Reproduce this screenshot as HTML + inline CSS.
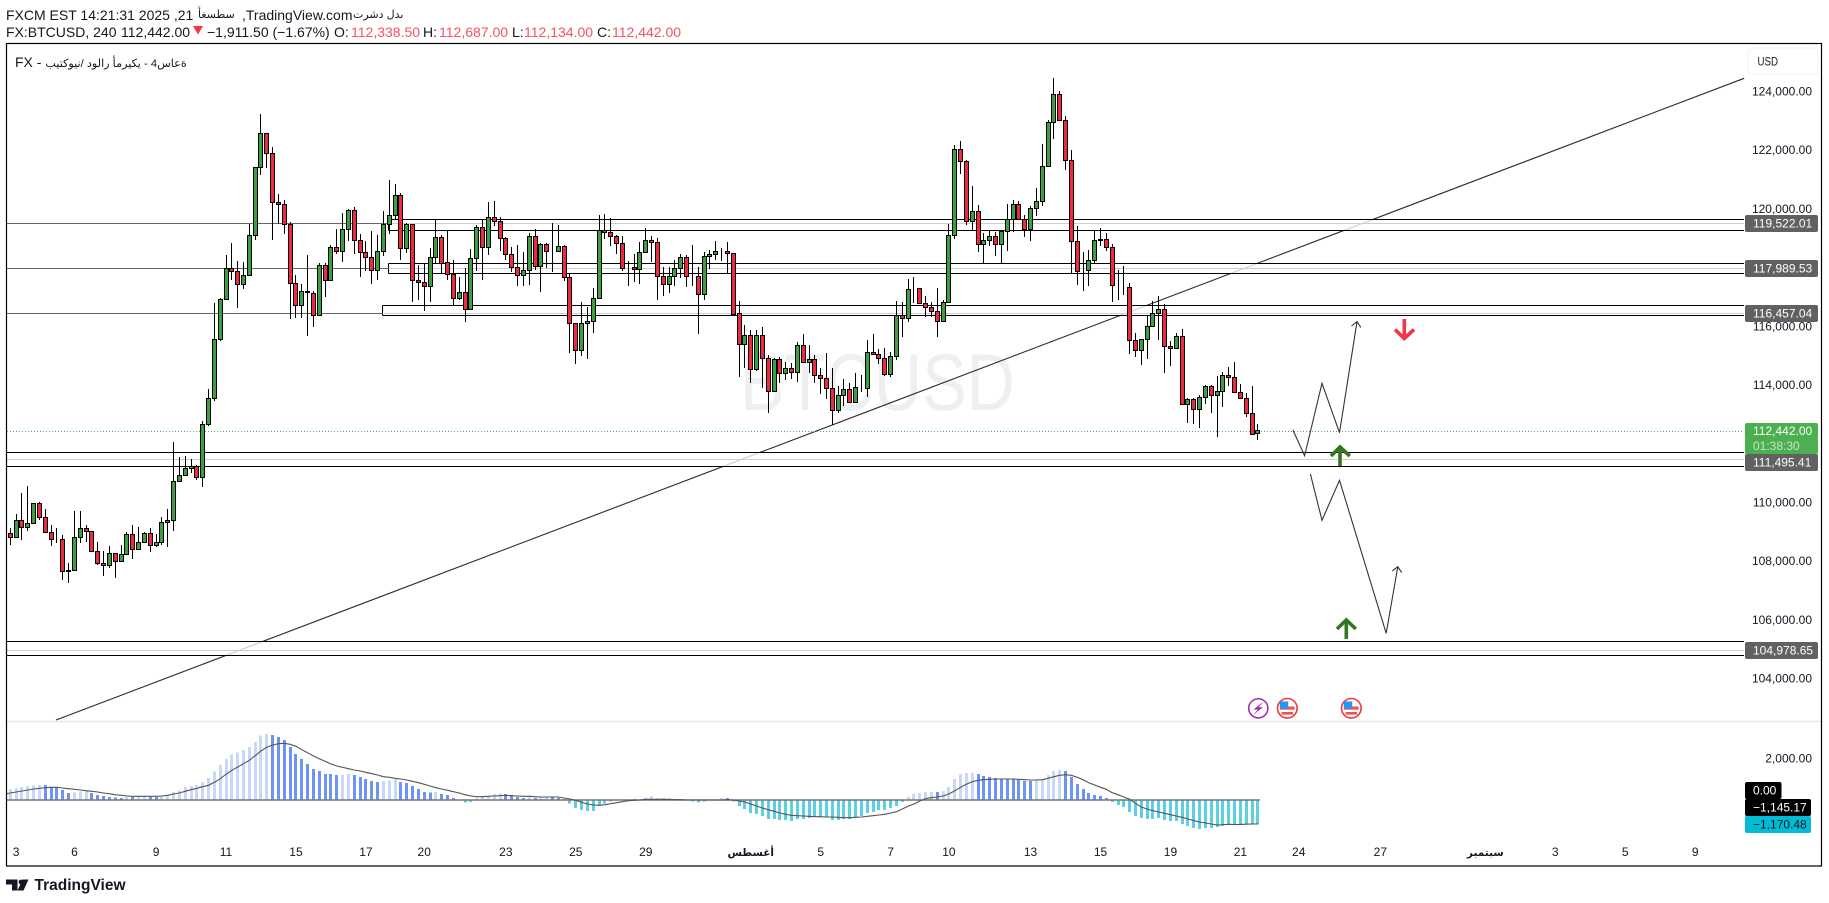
<!DOCTYPE html>
<html lang="en">
<head>
<meta charset="utf-8">
<title>BTCUSD 4H chart</title>
<style>
html,body{margin:0;padding:0;background:#fff;width:1829px;height:903px;overflow:hidden}
body{font-family:"Liberation Sans",DejaVu Sans,sans-serif;color:#131722;position:relative}
.t{position:absolute;white-space:pre;font-size:14px;line-height:18px;unicode-bidi:bidi-override;direction:ltr}
.a{font-size:11px}
.r{color:#f7525f}
svg{position:absolute;left:0;top:0}
svg text{font-family:"Liberation Sans",DejaVu Sans,sans-serif}
</style>
</head>
<body>
<svg id="chart" width="1829" height="903" viewBox="0 0 1829 903">
  <defs><clipPath id="pane-clip"><rect x="7" y="722" width="1814" height="144"/></clipPath></defs>
  <text x="740" y="410" font-size="81" fill="#eeeff2" textLength="275" lengthAdjust="spacingAndGlyphs">BTCUSD</text>
  <g id="trend-layer"></g>
  <g id="zone-layer"></g>
  <g id="price-line-layer"></g>
  <g id="candle-layer" shape-rendering="crispEdges"></g>
  <g id="projection-layer"></g>

  <g fill="none" stroke="#f23645" stroke-width="3.6">
    <line x1="1404.3" y1="319" x2="1404.3" y2="338"/>
    <polyline points="1395,329.5 1404.3,338.5 1414,329.5"/>
  </g>
  <g fill="none" stroke="#33761f" stroke-width="3.6">
    <line x1="1340" y1="447" x2="1340" y2="466"/>
    <polyline points="1331,456 1340,447 1349.8,456"/>
  </g>
  <g fill="none" stroke="#33761f" stroke-width="3.6">
    <line x1="1346.3" y1="620" x2="1346.3" y2="639"/>
    <polyline points="1337,629 1346.3,620 1355.8,629"/>
  </g>

  <g>
    <circle cx="1258.3" cy="708.3" r="9.6" fill="#fff" stroke="#9c27b0" stroke-width="1.5"/>
    <path d="M1263.5 701.5 L1253.5 709.6 L1258 709.6 L1253 715 L1263 707.2 L1258.6 707.2 Z" fill="#9c27b0"/>
  </g>
  <g>
    <circle cx="1287.3" cy="708.3" r="9.8" fill="#fff" stroke="#f23645" stroke-width="1.6"/>
    <rect x="1280" y="706.5" width="14.6" height="3.2" fill="#ef5350"/>
    <rect x="1281.5" y="712" width="11.6" height="2.6" fill="#ef5350"/>
    <rect x="1279.8" y="701.5" width="8.4" height="7" fill="#2196f3"/>
  </g>
  <g>
    <circle cx="1351.3" cy="708.3" r="9.8" fill="#fff" stroke="#f23645" stroke-width="1.6"/>
    <rect x="1344" y="706.5" width="14.6" height="3.2" fill="#ef5350"/>
    <rect x="1345.5" y="712" width="11.6" height="2.6" fill="#ef5350"/>
    <rect x="1343.8" y="701.5" width="8.4" height="7" fill="#2196f3"/>
  </g>

  <line x1="7" y1="721.5" x2="1821" y2="721.5" stroke="#e8e8ea" stroke-width="1.5"/>
  <g id="osc-layer" clip-path="url(#pane-clip)"></g>
  <g id="axis-layer"></g>
  <g id="time-layer"></g>

  <g>
    <rect x="1748" y="48" width="70" height="26" rx="4" fill="#fff" stroke="#f0f0f3"/>
    <text x="1757.5" y="65.5" font-size="12" fill="#131722" textLength="20.5" lengthAdjust="spacingAndGlyphs">USD</text>
  </g>

  <rect x="6.5" y="43.5" width="1815" height="822.5" fill="none" stroke="#000" stroke-width="1.2"/>

  <g>
    <path d="M6 879.5 H17.5 V890.5 H12 V884.5 H6 Z" fill="#131722"/>
    <circle cx="21" cy="882" r="2.4" fill="#131722"/>
    <path d="M22.5 879.5 H28.5 L23.5 890.5 H17.5 Z" fill="#131722"/>
    <text x="34.5" y="890" font-size="16" font-weight="bold" fill="#131722" textLength="91" lengthAdjust="spacingAndGlyphs">TradingView</text>
  </g>
</svg>

<div class="t" style="left:6px;top:6px">FXCM EST 14:21:31 2025 ,21</div>
<div class="t a" style="left:198px;top:6px">أغسطس</div>
<div class="t" style="left:242px;top:6px">,TradingView.com</div>
<div class="t a" style="left:353px;top:6px">ترشد لدى</div>
<div class="t" style="left:6px;top:23px">FX:BTCUSD, 240</div>
<div class="t" style="left:121px;top:23px">112,442.00</div>
<svg style="left:193px;top:26px" width="11" height="9"><path d="M0 0H10L5 8.5Z" fill="#f23645"/></svg>
<div class="t" style="left:207px;top:23px">−1,911.50 (−1.67%)</div>
<div class="t" style="left:334px;top:23px">O:</div>
<div class="t r" style="left:351px;top:23px">112,338.50</div>
<div class="t" style="left:423px;top:23px">H:</div>
<div class="t r" style="left:439px;top:23px">112,687.00</div>
<div class="t" style="left:512px;top:23px">L:</div>
<div class="t r" style="left:524px;top:23px">112,134.00</div>
<div class="t" style="left:597px;top:23px">C:</div>
<div class="t r" style="left:612px;top:23px">112,442.00</div>
<div class="t" style="left:15px;top:53px">FX - <span style="font-size:11.2px">بيتكوين/ دولار أمريكي - 4ساعة</span></div>

<script>
var opens = [
108946,108798,109389,109139,109275,109968,109491,108980,108741,108741,107685,107674,108809,109116,109014,108332,107924,107844,108264,107980,
108219,108912,108389,108639,108946,108525,108628,109309,109377,110706,110922,111149,111228,110842,112648,113534,115544,116920,117976,117874,
117431,117738,119100,121417,122575,121894,120225,120157,119475,117451,116715,117170,117124,116361,118078,117567,118692,118542,119305,119952,
118930,118521,118351,117908,118555,119461,119782,120463,118657,119475,117567,117499,117363,118351,119032,118180,117772,116940,117158,116566,
118303,119373,118678,119714,119577,118998,118453,118010,117724,117894,119066,118031,118794,118560,118542,118726,117669,116102,115169,116088,
116157,116954,119271,119203,119066,118828,118015,118010,117928,118507,118930,118862,117704,117417,117690,117962,118351,117710,117704,117077,
118371,118439,118560,118555,118487,116443,115373,115693,114521,115693,114910,113772,114876,114399,114555,114433,115353,114774,114876,114331,
114228,113888,113125,113649,113854,113411,113908,113888,115114,115046,114910,114365,114978,116375,116273,117300,117295,116784,116647,116511,
116170,116818,119087,122030,121622,119577,119918,118794,118930,119066,118794,119237,119645,120157,119645,119305,120020,120259,121451,122950,
123904,123018,121656,118896,117915,117908,118249,118930,118964,118692,117390,117355,117329,115523,115182,115557,116000,116443,116579,115318,
115251,115659,113342,113513,113172,113581,113942,113649,113785,114331,114263,113751,113547,113036,112338.5];
var highs = [
109116,109604,110309,110558,109968,110013,109775,109230,109127,108878,107924,109707,109707,109230,109014,108650,108344,108514,108264,108548,
108980,109230,109161,108991,109127,108923,109491,109775,112057,111546,111581,111478,111274,112762,113863,116793,116952,118419,118828,118214,
118180,119485,121438,123223,122575,122109,120497,120293,119543,117738,117431,118419,117192,118167,118146,118760,119315,119850,119986,120065,
119145,118906,119247,119111,119928,120984,120848,120541,119519,119475,118078,118157,118668,119656,119111,119281,118259,117680,117976,118623,
119451,119656,120235,120269,119724,119042,118692,118770,118521,119169,119305,118828,118828,119509,119441,118770,117782,116102,116818,116658,
117295,119782,119816,119680,119100,119066,118214,118463,118862,119339,119066,118998,118010,118010,118259,118463,118419,118770,118010,118521,
118599,118906,118657,118862,118497,116852,116034,115874,115864,115966,115012,114910,114964,114784,114760,115455,115727,115353,115022,114569,
115080,114569,113966,114194,114068,114399,114341,115523,115727,115216,115250,115114,116862,116818,117601,117669,117295,117032,116818,117295,
116896,119485,122177,122313,121666,120780,120133,119169,119281,119203,119281,120167,120303,120269,119792,120099,120712,122211,123029,124460,
124006,123155,122006,119417,118531,118599,119257,119339,119169,118794,117918,118054,117465,115761,115557,116375,116852,117032,116749,115489,
115761,115898,113557,113557,113649,113990,113990,114296,114433,114603,114774,114024,113728,113956,112687];
var lows = [
108548,108798,108719,109037,109275,109400,108968,108514,108616,107356,107265,107674,108605,108650,108321,107878,107492,107776,107424,107980,
108219,108071,108389,108639,108310,108480,108560,108491,109025,110706,110922,110990,110774,110536,112603,113466,115510,116896,117577,116634,
117281,117738,118940,121155,121383,118940,119485,119145,116249,116283,116283,115680,115986,116361,117008,117567,118463,118201,118916,118463,
117680,117884,117451,117577,118395,119145,119611,118259,118487,116828,116896,116521,116828,118146,117816,117577,116726,116896,116157,116566,
117884,117577,118429,119417,118565,118259,117850,117373,117373,117407,117918,117169,117996,117860,118542,117553,115101,114726,114998,114886,
115782,116954,118985,118736,118474,117894,117373,117509,117441,118507,118191,116896,117032,117134,117373,117646,117339,117373,115738,116896,
117952,118259,118225,117782,116385,114273,114579,114058,114487,113898,113046,113772,114078,114170,114215,114113,114774,114409,114078,113704,
113513,112627,113056,113295,113377,113411,113772,113581,115046,114716,114307,114283,114852,115646,116157,116784,116749,116327,116327,115646,
116170,116818,118974,121189,119461,119281,118531,118112,118746,118405,118146,118576,119203,119611,119053,118916,119758,120099,121451,122381,
123018,121335,117806,117407,117203,117373,118146,118736,118555,116828,116896,117066,115056,114964,114681,114886,116000,115533,114409,114647,
115251,113342,112716,112682,112535,113363,113036,112218,113251,113976,113751,113547,112920,112320,112134];
var closes = [
108798,109389,109139,109286,109968,109479,108968,108730,108730,107640,107640,108809,109116,109002,108321,107912,107844,108264,107980,108230,
108912,108389,108639,108946,108525,108639,109320,109389,110717,110922,111160,111217,110842,112659,113545,115555,116918,117976,117860,117431,
117738,119100,121417,122575,121894,120225,120157,119475,117451,116715,117169,117150,116361,118078,117567,118692,118542,119305,119952,118916,
118507,118337,117908,118555,119475,119782,120463,118657,119475,117553,117499,117349,118351,119032,118146,117772,116954,117158,116566,118317,
119373,118678,119714,119564,118985,118439,117996,117724,117908,119066,118031,118794,118542,118550,118726,117656,116088,115169,116102,116170,
116954,119271,119189,119053,118828,117962,118005,117928,118521,118930,118848,117690,117417,117704,117976,118351,117690,117700,117077,118385,
118453,118555,118550,118474,116419,115373,115693,114521,115693,114896,113772,114876,114399,114555,114433,115353,114774,114876,114331,114228,
113888,113125,113649,113854,113411,113922,113898,115114,115046,114910,114365,114978,116375,116273,117261,117290,116784,116647,116511,116170,
116818,119100,122030,121608,119577,119918,118794,118930,119066,118794,119237,119645,120157,119645,119305,120020,120259,121451,122950,123904,
123018,121656,118882,117874,117905,118249,118930,118964,118692,117383,117380,117345,115523,115182,115557,116000,116443,116579,115318,115251,
115659,113342,113513,113172,113581,113942,113649,113785,114331,114263,113751,113547,113036,112320,112442];

var histogram = [
528,576,624,672,704,720,715,608,592,480,336,368,416,464,336,240,192,144,112,96,
144,140,176,180,144,140,160,224,384,464,624,672,720,864,1056,1360,1680,1968,2192,2288,
2400,2544,2784,3088,3168,3120,3024,2880,2544,2208,1968,1728,1488,1392,1248,1240,1200,1210,1248,1200,
1104,1008,912,864,912,928,1008,864,816,672,528,384,352,384,288,240,96,32,-112,-96,
96,144,192,288,320,288,240,144,96,224,96,128,130,125,96,48,-160,-384,-480,-528,
-530,-288,-160,-64,16,32,48,40,32,128,192,80,64,80,48,48,32,-64,-112,-64,
-32,8,96,90,-80,-288,-432,-624,-672,-768,-912,-912,-960,-960,-1008,-912,-912,-864,-816,-816,
-816,-960,-960,-912,-912,-816,-768,-624,-576,-480,-480,-384,-288,-96,144,288,336,384,388,380,
432,624,1008,1248,1296,1300,1248,1152,1104,1056,1008,1000,990,960,912,905,960,965,1200,1392,
1440,1392,1104,768,528,336,240,192,96,-96,-240,-336,-576,-768,-864,-912,-912,-864,-960,-1008,
-1008,-1152,-1248,-1344,-1392,-1344,-1344,-1296,-1248,-1200,-1152,-1152,-1152,-1152,-1170.48];
var signal = [
336,384,432,480,528,560,592,608,608,576,544,512,480,448,416,384,336,304,256,224,
192,176,176,176,176,176,192,224,288,336,416,496,560,640,704,848,1024,1232,1424,1584,
1744,1904,2128,2352,2528,2640,2704,2720,2672,2576,2416,2272,2112,1984,1856,1728,1632,1568,1504,1440,
1392,1328,1264,1200,1120,1088,1040,1008,960,896,832,752,672,592,528,464,400,336,256,192,
160,160,176,192,208,224,208,192,176,176,160,144,144,144,144,96,48,-16,-112,-192,
-240,-256,-224,-176,-128,-80,-32,-16,0,32,32,32,32,32,16,16,0,0,0,0,
0,0,0,16,0,-48,-96,-192,-288,-384,-464,-544,-624,-688,-736,-752,-768,-784,-800,-800,
-816,-816,-832,-848,-848,-832,-816,-784,-752,-720,-688,-624,-560,-432,-304,-192,-48,64,112,144,
192,288,448,608,752,880,944,976,992,1008,1008,1008,1008,992,976,960,960,976,1040,1120,
1184,1216,1184,1088,976,832,720,608,512,352,256,144,32,-160,-336,-432,-512,-576,-640,-704,
-768,-832,-912,-992,-1056,-1104,-1152,-1200,-1184,-1168,-1180,-1170,-1160,-1150,-1145.17];
var priorSignal = 280;

var priceTicks = [124000,122000,120000,118000,116000,114000,112000,110000,108000,106000,104000];
var zoneLevels = [119522.01,117989.53,116457.04,111495.41,104978.65];
var zoneTops = [119645,118146,116715,111707,105268];
var zoneBottoms = [119271,117799,116375,111230,104791];
var zoneStartBars = [65,65,64,-1,-1];
var timeLabels = ['3','6','9','11','15','17','20','23','25','29','أغسطس','5','7','10','13','15','19','21','24','27','سبتمبر','3','5','9'];
var timeBars = [1,11,25,37,49,61,71,85,97,109,127,139,151,161,175,187,199,211,221,235,253,265,277,289];
var trendBars = [7.84,297.4];
var trendPrices = [102586,124449];
var upPathBars = [220,222,225,228,231];
var upPathPrices = [112467,111592,114058,112375,116157];
var downPathBars = [223,225,228,236,238];
var downPathPrices = [110968,109389,110753,105540,107809];
var macdTicks = [2000];

var NS = 'http://www.w3.org/2000/svg';
function xBar(i){ return 10.3 + 5.83 * i; }
function yPrice(p){ return 91.49 + (124000 - p) / 34.07; }
function yOsc(v){ return 800 - v / 48; }
function fmt(v){ return v.toLocaleString('en-US',{minimumFractionDigits:2,maximumFractionDigits:2}).replace('-','−'); }
function crisp(v){ return Math.round(v) + 0.5; }
function make(tag, parent, attrs){
  var el = document.createElementNS(NS, tag);
  for (var k in attrs) el.setAttribute(k, attrs[k]);
  parent.appendChild(el);
  return el;
}

/* trendline */
var trendLayer = document.getElementById('trend-layer');
var trend = make('line', trendLayer, {x1:xBar(trendBars[0]),y1:yPrice(trendPrices[0]),x2:xBar(trendBars[1]),y2:yPrice(trendPrices[1]),stroke:'#2a2a2a','stroke-width':1.1});



/* zones */
var zoneLayer = document.getElementById('zone-layer');
var PANE_RIGHT = 1744, PANE_LEFT = 7;
zoneLevels.forEach(function(level, n){
  var left = Math.max(PANE_LEFT, Math.round(xBar(zoneStartBars[n])) - 0.5);
  var top = crisp(yPrice(zoneTops[n])), bottom = crisp(yPrice(zoneBottoms[n])), mid = crisp(yPrice(level));
  var box = make('rect', zoneLayer, {x:left,y:top,width:PANE_RIGHT-left,height:bottom-top,fill:'rgba(255,255,255,0.78)',stroke:'none'});
  
  
  if (left > PANE_LEFT) {
    var lead = make('line', zoneLayer, {x1:PANE_LEFT,y1:mid,x2:left,y2:mid,stroke:'#666','stroke-width':1});
    
    
    var edge = make('line', zoneLayer, {x1:left,y1:top,x2:left,y2:bottom,stroke:'#000','stroke-width':1});
    
    
  }
  var midLine = make('line', zoneLayer, {x1:left,y1:mid,x2:PANE_RIGHT,y2:mid,stroke:'#cfcfcf','stroke-width':1});
  
  
  var topLine = make('line', zoneLayer, {x1:left,y1:top,x2:PANE_RIGHT,y2:top,stroke:'#000','stroke-width':1});
  
  
  var botLine = make('line', zoneLayer, {x1:left,y1:bottom,x2:PANE_RIGHT,y2:bottom,stroke:'#000','stroke-width':1});
  
  
});

/* last price dotted line */
var priceLineLayer = document.getElementById('price-line-layer');
var lastClose = closes[closes.length - 1];
var lastLine = make('line', priceLineLayer, {x1:7,y1:crisp(yPrice(lastClose)),x2:1744,y2:crisp(yPrice(lastClose)),stroke:'#4caf50','stroke-width':1,'stroke-dasharray':'1 2'});



/* candles */
var candleLayer = document.getElementById('candle-layer');
closes.forEach(function(c, i){
  var o = opens[i], col = Math.floor(xBar(i));
  var up = c >= o;
  var yTop = Math.round(yPrice(Math.max(o, c)) - 0.5) + 0.5;
  var yBot = Math.round(yPrice(Math.min(o, c)) - 0.5) + 0.5;
  var hi = Math.round(yPrice(highs[i])), lo = Math.round(yPrice(lows[i]));
  var wick = make('rect', candleLayer, {x:col,y:hi,width:1,height:Math.max(1,lo-hi),fill:'#000'});
  
  
  var body = make('rect', candleLayer, {x:col-1.5,y:yTop,width:4,height:Math.max(0,yBot-yTop),fill:up?'#3e9f3e':'#f0293f',stroke:'#000','stroke-width':1});
  
  
});

/* projections */
var projectionLayer = document.getElementById('projection-layer');
function drawPath(bars, prices, name){
  var pts = bars.map(function(b, k){ return xBar(b).toFixed(1) + ',' + yPrice(prices[k]).toFixed(1); }).join(' ');
  var line = make('polyline', projectionLayer, {points:pts,fill:'none',stroke:'#333','stroke-width':1.1});
  
  
  var n = bars.length - 1;
  var x1 = xBar(bars[n]), y1 = yPrice(prices[n]), x0 = xBar(bars[n-1]), y0 = yPrice(prices[n-1]);
  var a = Math.atan2(y1 - y0, x1 - x0), len = 7, sp = 0.75;
  var head = make('polyline', projectionLayer, {points:(x1-len*Math.cos(a-sp)).toFixed(1)+','+(y1-len*Math.sin(a-sp)).toFixed(1)+' '+x1.toFixed(1)+','+y1.toFixed(1)+' '+(x1-len*Math.cos(a+sp)).toFixed(1)+','+(y1-len*Math.sin(a+sp)).toFixed(1),fill:'none',stroke:'#333','stroke-width':1.1});
  
  
}
drawPath(upPathBars, upPathPrices, 'bullish-projection');
drawPath(downPathBars, downPathPrices, 'bearish-projection');

/* oscillator */
var oscLayer = document.getElementById('osc-layer');
histogram.forEach(function(v, i){
  var prev = i ? histogram[i-1] : v;
  var color = v < 0 ? '#5ccfe0' : (v >= prev ? '#c9d7f9' : '#6d94f5');
  var y0 = yOsc(0), yv = yOsc(v);
  var bar = make('rect', oscLayer, {x:Math.floor(xBar(i))-1,y:Math.min(y0,yv),width:3,height:Math.abs(yv-y0),fill:color,'shape-rendering':'crispEdges'});
  
  
});
var zeroLine = make('line', oscLayer, {x1:7,y1:yOsc(0),x2:xBar(histogram.length-1)+2,y2:yOsc(0),stroke:'#777','stroke-width':1.5});


var sigPts = xBar(-1).toFixed(1) + ',' + yOsc(priorSignal).toFixed(1) + ' ' + signal.map(function(v, i){ return xBar(i).toFixed(1) + ',' + yOsc(v).toFixed(1); }).join(' ');
var sigLine = make('polyline', oscLayer, {points:sigPts,fill:'none',stroke:'#555','stroke-width':1.1});



/* price axis */
var axisLayer = document.getElementById('axis-layer');
priceTicks.forEach(function(p){
  var t = make('text', axisLayer, {x:1812,y:yPrice(p)+4,'font-size':12,fill:'#131722','text-anchor':'end'});
  
  
  t.textContent = fmt(p);
});
macdTicks.forEach(function(v){
  var t = make('text', axisLayer, {x:1812,y:yOsc(v)+4,'font-size':12,fill:'#131722','text-anchor':'end'});
  
  
  t.textContent = fmt(v);
});
function badge(value, top, bottom, right, fill, ink, name){
  var r = make('rect', axisLayer, {x:1745,y:top,width:right-1745,height:bottom-top,rx:2,fill:fill});
  
  
  var t = make('text', axisLayer, {x:1753,y:(top+bottom)/2+4,'font-size':12,fill:ink});
  
  
  t.textContent = value;
}
zoneLevels.forEach(function(level){
  var c = yPrice(level);
  if (level === zoneLevels[3]) { c += 3.8; }
  badge(fmt(level), Math.round(c) - 8, Math.round(c) + 9, 1818, '#616161', '#fff', 'zone-price-badge');
});
badge(fmt(lastClose), 423, 439, 1818, '#4caf50', '#fff', 'last-price-badge');
badge('01:38:30', 438, 454, 1818, '#4caf50', '#c8e6c9', 'bar-countdown');
badge(fmt(0), 782, 799, 1781.5, '#000', '#fff', 'macd-zero-badge');
badge(fmt(signal[signal.length-1]), 799, 816, 1811, '#000', '#fff', 'macd-signal-badge');
badge(fmt(histogram[histogram.length-1]), 816, 833, 1811, '#00bcd4', '#131722', 'macd-histogram-badge');

/* time axis */
var timeLayer = document.getElementById('time-layer');
timeLabels.forEach(function(label, n){
  var isMonth = label.length > 2;
  var t = make('text', timeLayer, {x:xBar(timeBars[n]),y:856,'font-size':isMonth?10.5:12,fill:'#131722','text-anchor':'middle','font-weight':isMonth?'bold':'normal'});
  
  
  t.textContent = label;
});
</script>
</body>
</html>
